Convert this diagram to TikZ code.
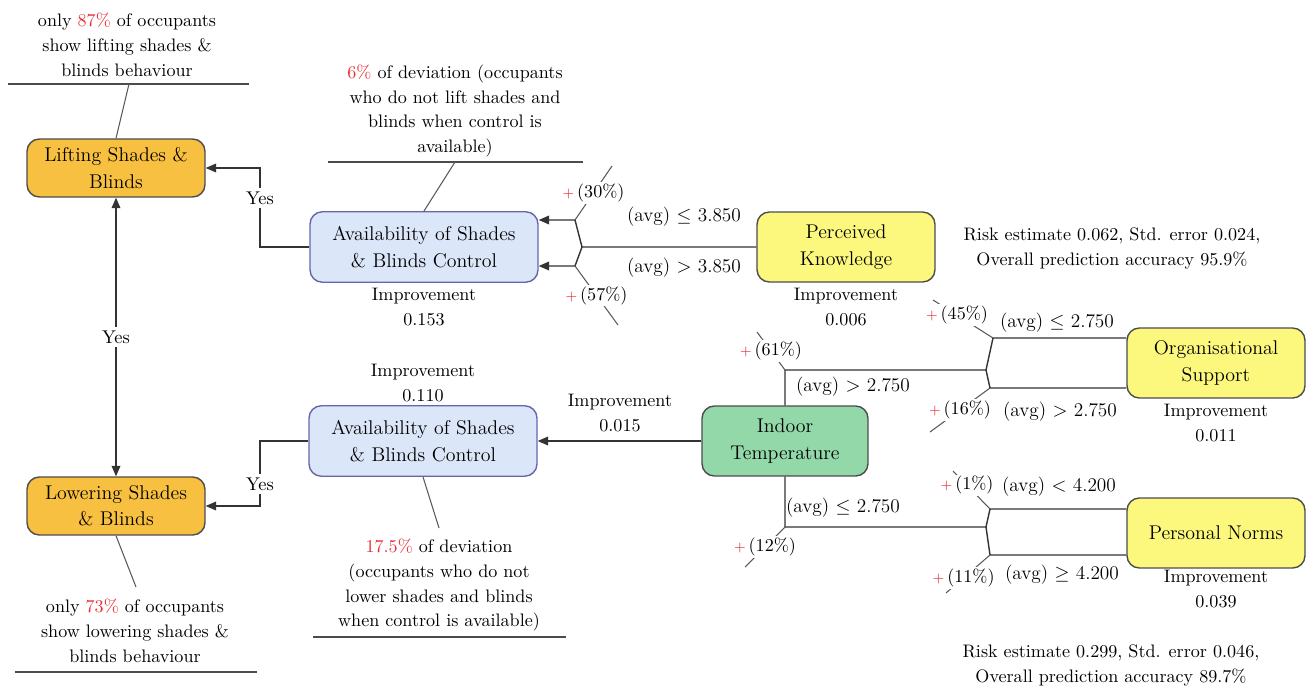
\documentclass[tikz,border=0pt]{standalone}
\usepackage{tikz}
\usepackage{xcolor}
\usepackage{amsmath}
\usetikzlibrary{arrows.meta}

\definecolor{pctred}{RGB}{232,48,58}
\definecolor{outfill}{RGB}{248,192,64}
\definecolor{availfill}{RGB}{220,230,249}
\definecolor{predfill}{RGB}{252,247,125}
\definecolor{rootfill}{RGB}{146,216,168}

\tikzset{
	nodebox/.style={draw=black!70, line width=0.8pt, rounded corners=7pt, align=center,
		inner sep=2pt, font=\fontsize{11.3}{15}\selectfont},
	outbox/.style={nodebox, fill=outfill, minimum width=3.56cm, minimum height=1.16cm},
	availbox/.style={nodebox, draw=black!55!blue!60, fill=availfill, minimum width=4.56cm, minimum height=1.41cm},
	predbox/.style={nodebox, fill=predfill, minimum width=3.56cm, minimum height=1.4cm},
	rootbox/.style={nodebox, fill=rootfill, minimum width=3.32cm, minimum height=1.4cm},
	note/.style={align=center, inner sep=0pt, font=\fontsize{10.3}{14.2}\selectfont},
	cond/.style={inner sep=0pt, font=\fontsize{11}{13}\selectfont},
	pct/.style={fill=white, inner sep=1pt, font=\fontsize{10.3}{12}\selectfont},
	yes/.style={fill=white, inner sep=2pt, font=\fontsize{10.5}{12}\selectfont},
	edge/.style={draw=black!80, line width=0.8pt},
	arr/.style={edge, -{Triangle[length=6pt,width=5pt]}},
	lead/.style={draw=black!65, line width=0.6pt},
	rule/.style={draw=black!70, line width=0.9pt}
}

\newcommand{\plus}{{\color{pctred}\footnotesize+}\,}

\begin{document}
\begin{tikzpicture}[x=0.02cm, y=-0.02cm]
	\useasboundingbox (0,0) rectangle (1308,686);
	%\draw[help lines] (0,0) grid[step=50] (1308,686);
	
	% boxes
	\node[outbox] (lift) at (116,168) {Lifting Shades \&\\Blinds};
	\node[outbox] (lower) at (116,506) {Lowering Shades\\\& Blinds};
	\node[availbox] (availA) at (424,247) {Availability of Shades\\\& Blinds Control};
	\node[availbox] (availB) at (423,441) {Availability of Shades\\\& Blinds Control};
	\node[predbox] (know) at (846,247) {Perceived\\Knowledge};
	\node[rootbox] (temp) at (785,441) {Indoor\\Temperature};
	\node[predbox] (org) at (1216,363) {Organisational\\Support};
	\node[predbox] (norms) at (1216,533) {Personal Norms};
	
	% fork points
	\coordinate (jA) at (582,247);
	\coordinate (cA1) at (575,220);
	\coordinate (cA2) at (575,266);
	\coordinate (tA1) at (612,166);
	\coordinate (tA2) at (618,325);
	
	\coordinate (jB) at (986,370);
	\coordinate (kB) at (temp.north |- jB);
	\coordinate (cB1) at (993,338);
	\coordinate (cB2) at (990,388);
	\coordinate (tB) at (757,332);
	\coordinate (tB1) at (933,300);
	\coordinate (tB2) at (930,432);
	
	\coordinate (jC) at (986,527);
	\coordinate (kC) at (temp.south |- jC);
	\coordinate (cC1) at (990,509);
	\coordinate (cC2) at (990,555);
	\coordinate (tC) at (745,567);
	\coordinate (tC1) at (953,471);
	\coordinate (tC2) at (946,593);
	
	% outcome links
	\draw[edge, {Triangle[length=6pt,width=5pt]}-{Triangle[length=6pt,width=5pt]}]
		(lift.south) -- node[yes] (yes0) {Yes} (lower.north);
	\draw[arr] (availA.west) -- (260,247) |- node[yes, pos=0.31] (yes1) {Yes} (lift.east);
	\draw[arr] (availB.west) -- (260,441) |- node[yes, pos=0.33] (yes2) {Yes} (lower.east);
	
	% perceived knowledge split
	\draw[arr] (know.west) -- (jA) -- (cA1) -- (availA.east |- cA1);
	\draw[arr] (jA) -- (cA2) -- (availA.east |- cA2);
	\draw[lead] (cA1) -- node[pct] (p30) {\plus(30\%)} (tA1);
	\draw[lead] (cA2) -- node[pct] (p57) {\plus(57\%)} (tA2);
	
	% indoor temperature splits
	\draw[arr] (temp.west) -- (availB.east);
	\draw[edge] (temp.north) |- (jB) -- (cB1) -- (org.west |- cB1);
	\draw[edge] (jB) -- (cB2) -- (org.west |- cB2);
	\draw[edge] (temp.south) |- (jC) -- (cC1) -- (norms.west |- cC1);
	\draw[edge] (jC) -- (cC2) -- (norms.west |- cC2);
	
	\draw[lead] (kB) -- node[pct] (p61) {\plus(61\%)} (tB);
	\draw[lead] (kC) -- node[pct] (p12) {\plus(12\%)} (tC);
	\draw[lead] (cB1) -- node[pct, pos=0.6] (p45) {\plus(45\%)} (tB1);
	\draw[lead] (cB2) -- node[pct] (p16) {\plus(16\%)} (tB2);
	\draw[lead] (cC1) -- node[pct, pos=0.62] (p1) {\plus(1\%)} (tC1);
	\draw[lead] (cC2) -- node[pct, pos=0.6] (p11) {\plus(11\%)} (tC2);
	
	% split conditions
	\node[cond] (c1) at (684,217) {(avg) $\leq$ 3.850};
	\node[cond] (c2) at (684,268) {(avg) $>$ 3.850};
	\node[cond] (c3) at (853,387) {(avg) $>$ 2.750};
	\node[cond] (c4) at (843,508) {(avg) $\leq$ 2.750};
	\node[cond] (c5) at (1057,323) {(avg) $\leq$ 2.750};
	\node[cond] (c6) at (1060,412) {(avg) $>$ 2.750};
	\node[cond] (c7) at (1059,487) {(avg) $<$ 4.200};
	\node[cond] (c8) at (1062,575) {(avg) $\geq$ 4.200};
	
	% improvements
	\node[note] (imp1) at (424,307) {Improvement\\0.153};
	\node[note] (imp2) at (423,383) {Improvement\\0.110};
	\node[note] (imp3) at (846,307) {Improvement\\0.006};
	\node[note] (imp4) at (1216,423) {Improvement\\0.011};
	\node[note] (imp5) at (1216,589) {Improvement\\0.039};
	\node[note] (imp6) at (620,413) {Improvement\\0.015};
	
	\node[note] (risk1) at (1112,248) {Risk estimate 0.062, Std. error 0.024,\\Overall prediction accuracy 95.9\%};
	\node[note] (risk2) at (1111,665) {Risk estimate 0.299, Std. error 0.046,\\Overall prediction accuracy 89.7\%};
	
	% deviation notes
	\node[note] (n1) at (127,45) {only {\color{pctred}87\%} of occupants\\show lifting shades \&\\blinds behaviour};
	\draw[rule] (8,84) -- (249,84);
	\draw[lead] (129,84) -- (lift.north);
	
	\node[note] (n2) at (455,111) {{\color{pctred}6\%} of deviation (occupants\\who do not lift shades and\\blinds when control is\\available)};
	\draw[rule] (328,162) -- (583,162);
	\draw[lead] (455,162) -- (availA.north);
	
	\node[note] (n3) at (439,585) {{\color{pctred}17.5\%} of deviation\\(occupants who do not\\lower shades and blinds\\when control is available)};
	\draw[rule] (313,637) -- (566,637);
	\draw[lead] (availB.south) -- (439,528);
	
	\node[note] (n4) at (135,631) {only {\color{pctred}73\%} of occupants\\show lowering shades \&\\blinds behaviour};
	\draw[rule] (15,672) -- (257,672);
	\draw[lead] (lower.south) -- (136,587);
\end{tikzpicture}
\end{document}
